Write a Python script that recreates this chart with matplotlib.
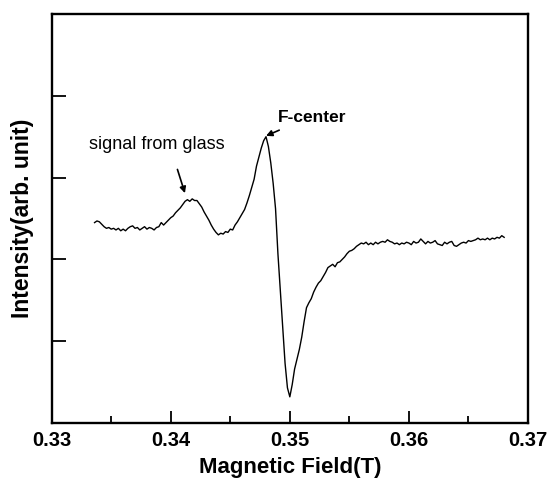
import numpy as np
import matplotlib
matplotlib.use("Agg")
import matplotlib.pyplot as plt
from matplotlib.ticker import MultipleLocator

plt.rcParams['font.family'] = ['Liberation Sans', 'DejaVu Sans']

# EPR spectrum: field sampled every 0.2 mT starting at 0.3336 T
field_start = 0.3336
field_step = 0.0002
intensity = [
    2.45, 2.47, 2.46, 2.43, 2.40, 2.38, 2.39, 2.37, 2.38, 2.36,
    2.38, 2.35, 2.37, 2.35, 2.38, 2.40, 2.41, 2.38, 2.39, 2.36,
    2.38, 2.40, 2.37, 2.39, 2.38, 2.36, 2.39, 2.40, 2.45, 2.42,
    2.45, 2.48, 2.51, 2.53, 2.57, 2.60, 2.63, 2.67, 2.71, 2.73,
    2.71, 2.74, 2.72, 2.72, 2.68, 2.64, 2.58, 2.53, 2.48, 2.42,
    2.37, 2.33, 2.30, 2.32, 2.31, 2.34, 2.33, 2.37, 2.36, 2.42,
    2.46, 2.51, 2.56, 2.61, 2.69, 2.78, 2.88, 2.98, 3.14, 3.25,
    3.36, 3.45, 3.50, 3.38, 3.18, 2.93, 2.62, 2.07, 1.62, 1.18,
    0.73, 0.43, 0.32, 0.47, 0.66, 0.78, 0.90, 1.05, 1.24, 1.41,
    1.47, 1.52, 1.60, 1.66, 1.71, 1.74, 1.79, 1.84, 1.90, 1.92,
    1.94, 1.91, 1.96, 1.97, 2.00, 2.03, 2.07, 2.10, 2.11, 2.13,
    2.16, 2.18, 2.20, 2.19, 2.21, 2.18, 2.20, 2.18, 2.21, 2.19,
    2.21, 2.22, 2.21, 2.24, 2.22, 2.21, 2.19, 2.20, 2.18, 2.20,
    2.19, 2.21, 2.20, 2.18, 2.22, 2.20, 2.21, 2.25, 2.22, 2.19,
    2.22, 2.20, 2.21, 2.23, 2.19, 2.18, 2.17, 2.21, 2.19, 2.21,
    2.22, 2.17, 2.16, 2.18, 2.20, 2.21, 2.20, 2.23, 2.22, 2.23,
    2.24, 2.26, 2.24, 2.25, 2.24, 2.26, 2.24, 2.26, 2.25, 2.27,
    2.26, 2.29, 2.27,
]
field = field_start + field_step * np.arange(len(intensity))

x_ticks = [0.33, 0.34, 0.35, 0.36, 0.37]
x_tick_labels = ["0.33", "0.34", "0.35", "0.36", "0.37"]
y_ticks = [1, 2, 3, 4]

fig = plt.figure(figsize=(5.47, 4.86), dpi=100)
ax = fig.add_axes([0.0945, 0.1296, 0.8707, 0.8416])

ax.plot(field, intensity, color='black', lw=1.0)

ax.set_xlim(0.33, 0.37)
ax.set_ylim(0, 5)
ax.set_xticks(x_ticks)
ax.set_xticklabels(x_tick_labels, fontsize=14.5, fontweight='bold')
ax.xaxis.set_minor_locator(MultipleLocator(0.005))
ax.set_yticks(y_ticks)
ax.set_yticklabels([])

ax.tick_params(axis='both', which='major', direction='in', length=9, width=1.3,
               top=False, right=False)
ax.tick_params(axis='y', which='major', length=10)
ax.tick_params(axis='x', which='major', pad=6)
ax.tick_params(axis='x', which='minor', direction='in', length=5, width=1.3,
               top=False)
for sp in ax.spines.values():
    sp.set_linewidth(1.7)

ax.set_xlabel("Magnetic Field(T)", fontsize=16, fontweight='bold', labelpad=5)
ax.set_ylabel("Intensity(arb. unit)", fontsize=16.5, fontweight='bold', labelpad=9)

ax.annotate("", xy=(0.34119, 2.81), xytext=(0.34056, 3.10),
            arrowprops=dict(arrowstyle='-|>', color='black', lw=1.2,
                            mutation_scale=9, shrinkA=0, shrinkB=0))
ax.text(0.33314, 3.40, "signal from glass", fontsize=13, va='center', ha='left')

ax.annotate("", xy=(0.34800, 3.51), xytext=(0.34911, 3.58),
            arrowprops=dict(arrowstyle='-|>', color='black', lw=1.2,
                            mutation_scale=9, shrinkA=0, shrinkB=0))
ax.text(0.34901, 3.74, "F-center", fontsize=12.5, fontweight='bold',
        va='center', ha='left')

fig.savefig("out.png", dpi=100)
